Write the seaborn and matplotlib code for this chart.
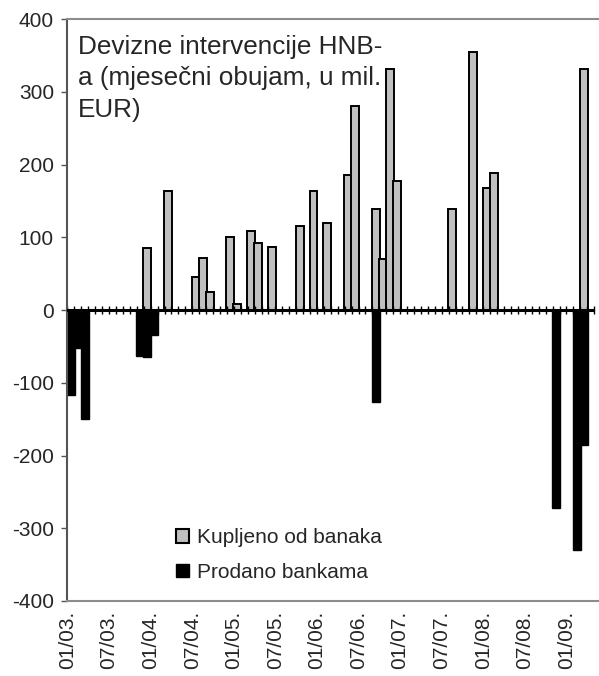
import numpy as np
import pandas as pd
import matplotlib
matplotlib.use("Agg")
import matplotlib.pyplot as plt
from matplotlib.patches import Patch
import seaborn as sns

# monthly data, Jan 2003 - Apr 2009
start_month = "2003-01"
n_months = 76

bought_months = ["2003-12", "2004-03", "2004-07", "2004-08", "2004-09", "2004-12",
                 "2005-01", "2005-03", "2005-04", "2005-06", "2005-10", "2005-12",
                 "2006-02", "2006-05", "2006-06", "2006-09", "2006-10", "2006-11",
                 "2006-12", "2007-08", "2007-11", "2008-01", "2008-02", "2009-03"]
bought = [85, 163, 46, 71, 25, 100, 8, 109, 92, 86, 116, 163,
          119, 185, 280, 139, 70, 331, 177, 139, 355, 168, 189, 331]

sold_months = ["2003-01", "2003-02", "2003-03", "2003-11", "2003-12", "2004-01",
               "2006-09", "2008-11", "2009-02", "2009-03"]
sold = [-117, -52, -150, -63, -65, -35, -126, -272, -330, -186]

tick_labels = ["01/03.", "07/03.", "01/04.", "07/04.", "01/05.", "07/05.", "01/06.",
               "07/06.", "01/07.", "07/07.", "01/08.", "07/08.", "01/09."]
y_ticks = [-400, -300, -200, -100, 0, 100, 200, 300, 400]

title = "Devizne intervencije HNB-\na (mjesečni obujam, u mil.\nEUR)"
labels = ["Kupljeno od banaka", "Prodano bankama"]


def month_index(months):
    d = pd.to_datetime(months)
    s = pd.to_datetime(start_month)
    return (d.year - s.year) * 12 + (d.month - s.month)


df_b = pd.DataFrame({"m": month_index(bought_months), "v": bought})
df_s = pd.DataFrame({"m": month_index(sold_months), "v": sold})

sns.set_theme(style="white")
plt.rcParams["font.family"] = ["Liberation Sans", "DejaVu Sans"]

fig = plt.figure(figsize=(5.99, 6.76), dpi=100)
ax = fig.add_axes([66.5 / 599, 75 / 676, 532.5 / 599, 582 / 676])

sns.barplot(data=df_b, x="m", y="v", native_scale=True, orient="x", width=1.15,
            color="#c0c0c0", edgecolor="black", linewidth=1.4, errorbar=None,
            saturation=1, ax=ax)
sns.barplot(data=df_s, x="m", y="v", native_scale=True, orient="x", width=1.15,
            color="black", edgecolor="black", linewidth=1.0, errorbar=None,
            saturation=1, ax=ax)

# zero line with a cross tick at every month
ax.hlines(0, -0.7, n_months - 0.5, color="black", lw=2.2, zorder=5)
ax.vlines(np.arange(n_months + 1) - 0.5, -5.5, 5.5, color="black", lw=1, zorder=1)

ax.set_xlim(-0.644, 76.2)
ax.set_ylim(-400, 400)
ax.set_xticks(np.arange(0, n_months, 6) - 0.5)
ax.set_xticklabels(tick_labels, rotation=90, fontsize=15)
ax.set_yticks(y_ticks)
ax.set_yticklabels([str(t) for t in y_ticks], fontsize=15)
ax.tick_params(axis="x", length=0, pad=7)
ax.tick_params(axis="y", length=4, width=1, color="#555555", direction="out", pad=5, left=True)
ax.set_xlabel("")
ax.set_ylabel("")

ax.spines["right"].set_visible(False)
ax.spines["top"].set_color("#8c8c8c")
ax.spines["top"].set_linewidth(1.5)
ax.spines["bottom"].set_color("#8c8c8c")
ax.spines["bottom"].set_linewidth(1.5)
ax.spines["left"].set_color("#555555")
ax.spines["left"].set_linewidth(1.5)

ax.text(0.022, 0.973, title, transform=ax.transAxes, ha="left", va="top",
        fontsize=18.8, linespacing=1.4)

handles = [Patch(facecolor="#c0c0c0", edgecolor="black", linewidth=1.5),
           Patch(facecolor="black", edgecolor="black")]
ax.legend(handles, labels, loc="upper left", bbox_to_anchor=(0.206, 0.125),
          frameon=False, fontsize=15, handlelength=0.63, handleheight=0.63,
          handletextpad=0.35, labelspacing=0.75, borderpad=0, borderaxespad=0)

fig.savefig("out.png", dpi=100)
